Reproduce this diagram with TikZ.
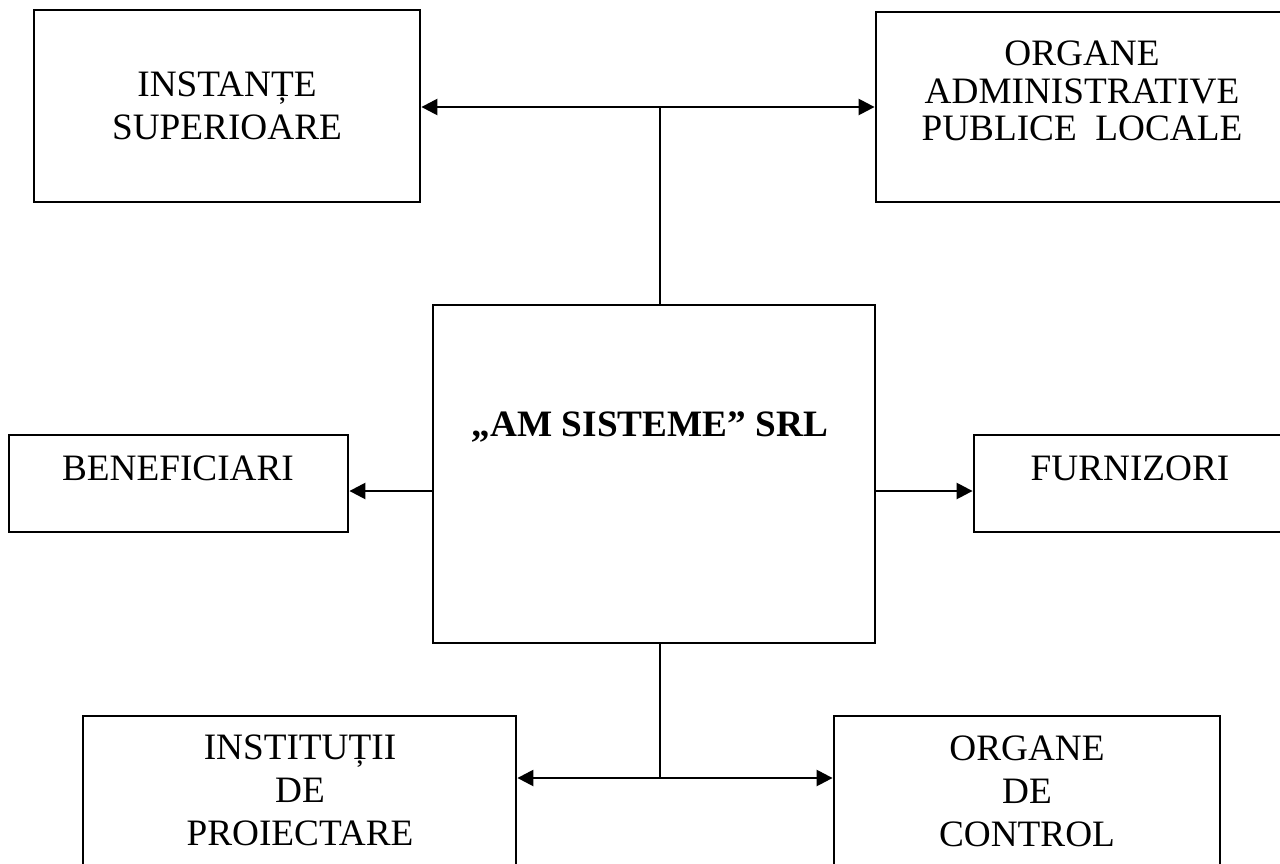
\documentclass[tikz,border=0pt]{standalone}
\usepackage{fontspec}
\setmainfont{Liberation Serif}
\usetikzlibrary{arrows.meta,fit}

\tikzset{
	box/.style={draw, line width=1.6pt, inner sep=0pt},
	lbl/.style={align=center, font=\fontsize{21.2}{24.5}\selectfont},
	link/.style={line width=1.4pt}
}

\begin{document}
\begin{tikzpicture}[x=0.2mm, y=-0.2mm, >={Triangle[length=3.2mm, width=3.2mm]}]
		\useasboundingbox (0,0) rectangle (1280,864);

		\node[box, fit={(34,10) (420,202)}]    (inst)   {};
		\node[box, fit={(876,12) (1290,202)}]  (orgadm) {};
		\node[box, fit={(433,305) (875,643)}]  (firma)  {};
		\node[box, fit={(9,435) (348,532)}]    (benef)  {};
		\node[box, fit={(974,435) (1290,532)}] (furn)   {};
		\node[box, fit={(83,716) (516,900)}]   (proi)   {};
		\node[box, fit={(834,716) (1220,900)}] (ctrl)   {};

		\node[lbl] (instT)   at (227,106) {INSTANȚE\\SUPERIOARE};
		\node[lbl, font=\fontsize{21.2}{21.3}\selectfont] (orgadmT) at (1082,91) {ORGANE\\ADMINISTRATIVE\\PUBLICE\ \ LOCALE};
		\node[lbl, font=\fontsize{21.2}{24.5}\selectfont\bfseries] (firmaT) at (650,427) {„AM SISTEME” SRL};
		\node[lbl] (benefT)  at (178,468.5) {BENEFICIARI};
		\node[lbl] (furnT)   at (1130,468.5) {FURNIZORI};
		\node[lbl] (proiT)   at (300,790) {INSTITUȚII\\DE\\PROIECTARE};
		\node[lbl] (ctrlT)   at (1027,791) {ORGANE\\DE\\CONTROL};

		\coordinate (sus) at (660,107);
		\coordinate (jos) at (660,778);
		\coordinate (mij) at (660,491);

		\draw[link, <->] (inst.east |- sus) -- (orgadm.west |- sus);
		\draw[link] (sus) -- (sus |- firma.north);
		\draw[link] (jos |- firma.south) -- (jos);
		\draw[link, <->] (proi.east |- jos) -- (ctrl.west |- jos);
		\draw[link, ->] (firma.west |- mij) -- (benef.east |- mij);
		\draw[link, ->] (firma.east |- mij) -- (furn.west |- mij);

	\end{tikzpicture}
\end{document}
